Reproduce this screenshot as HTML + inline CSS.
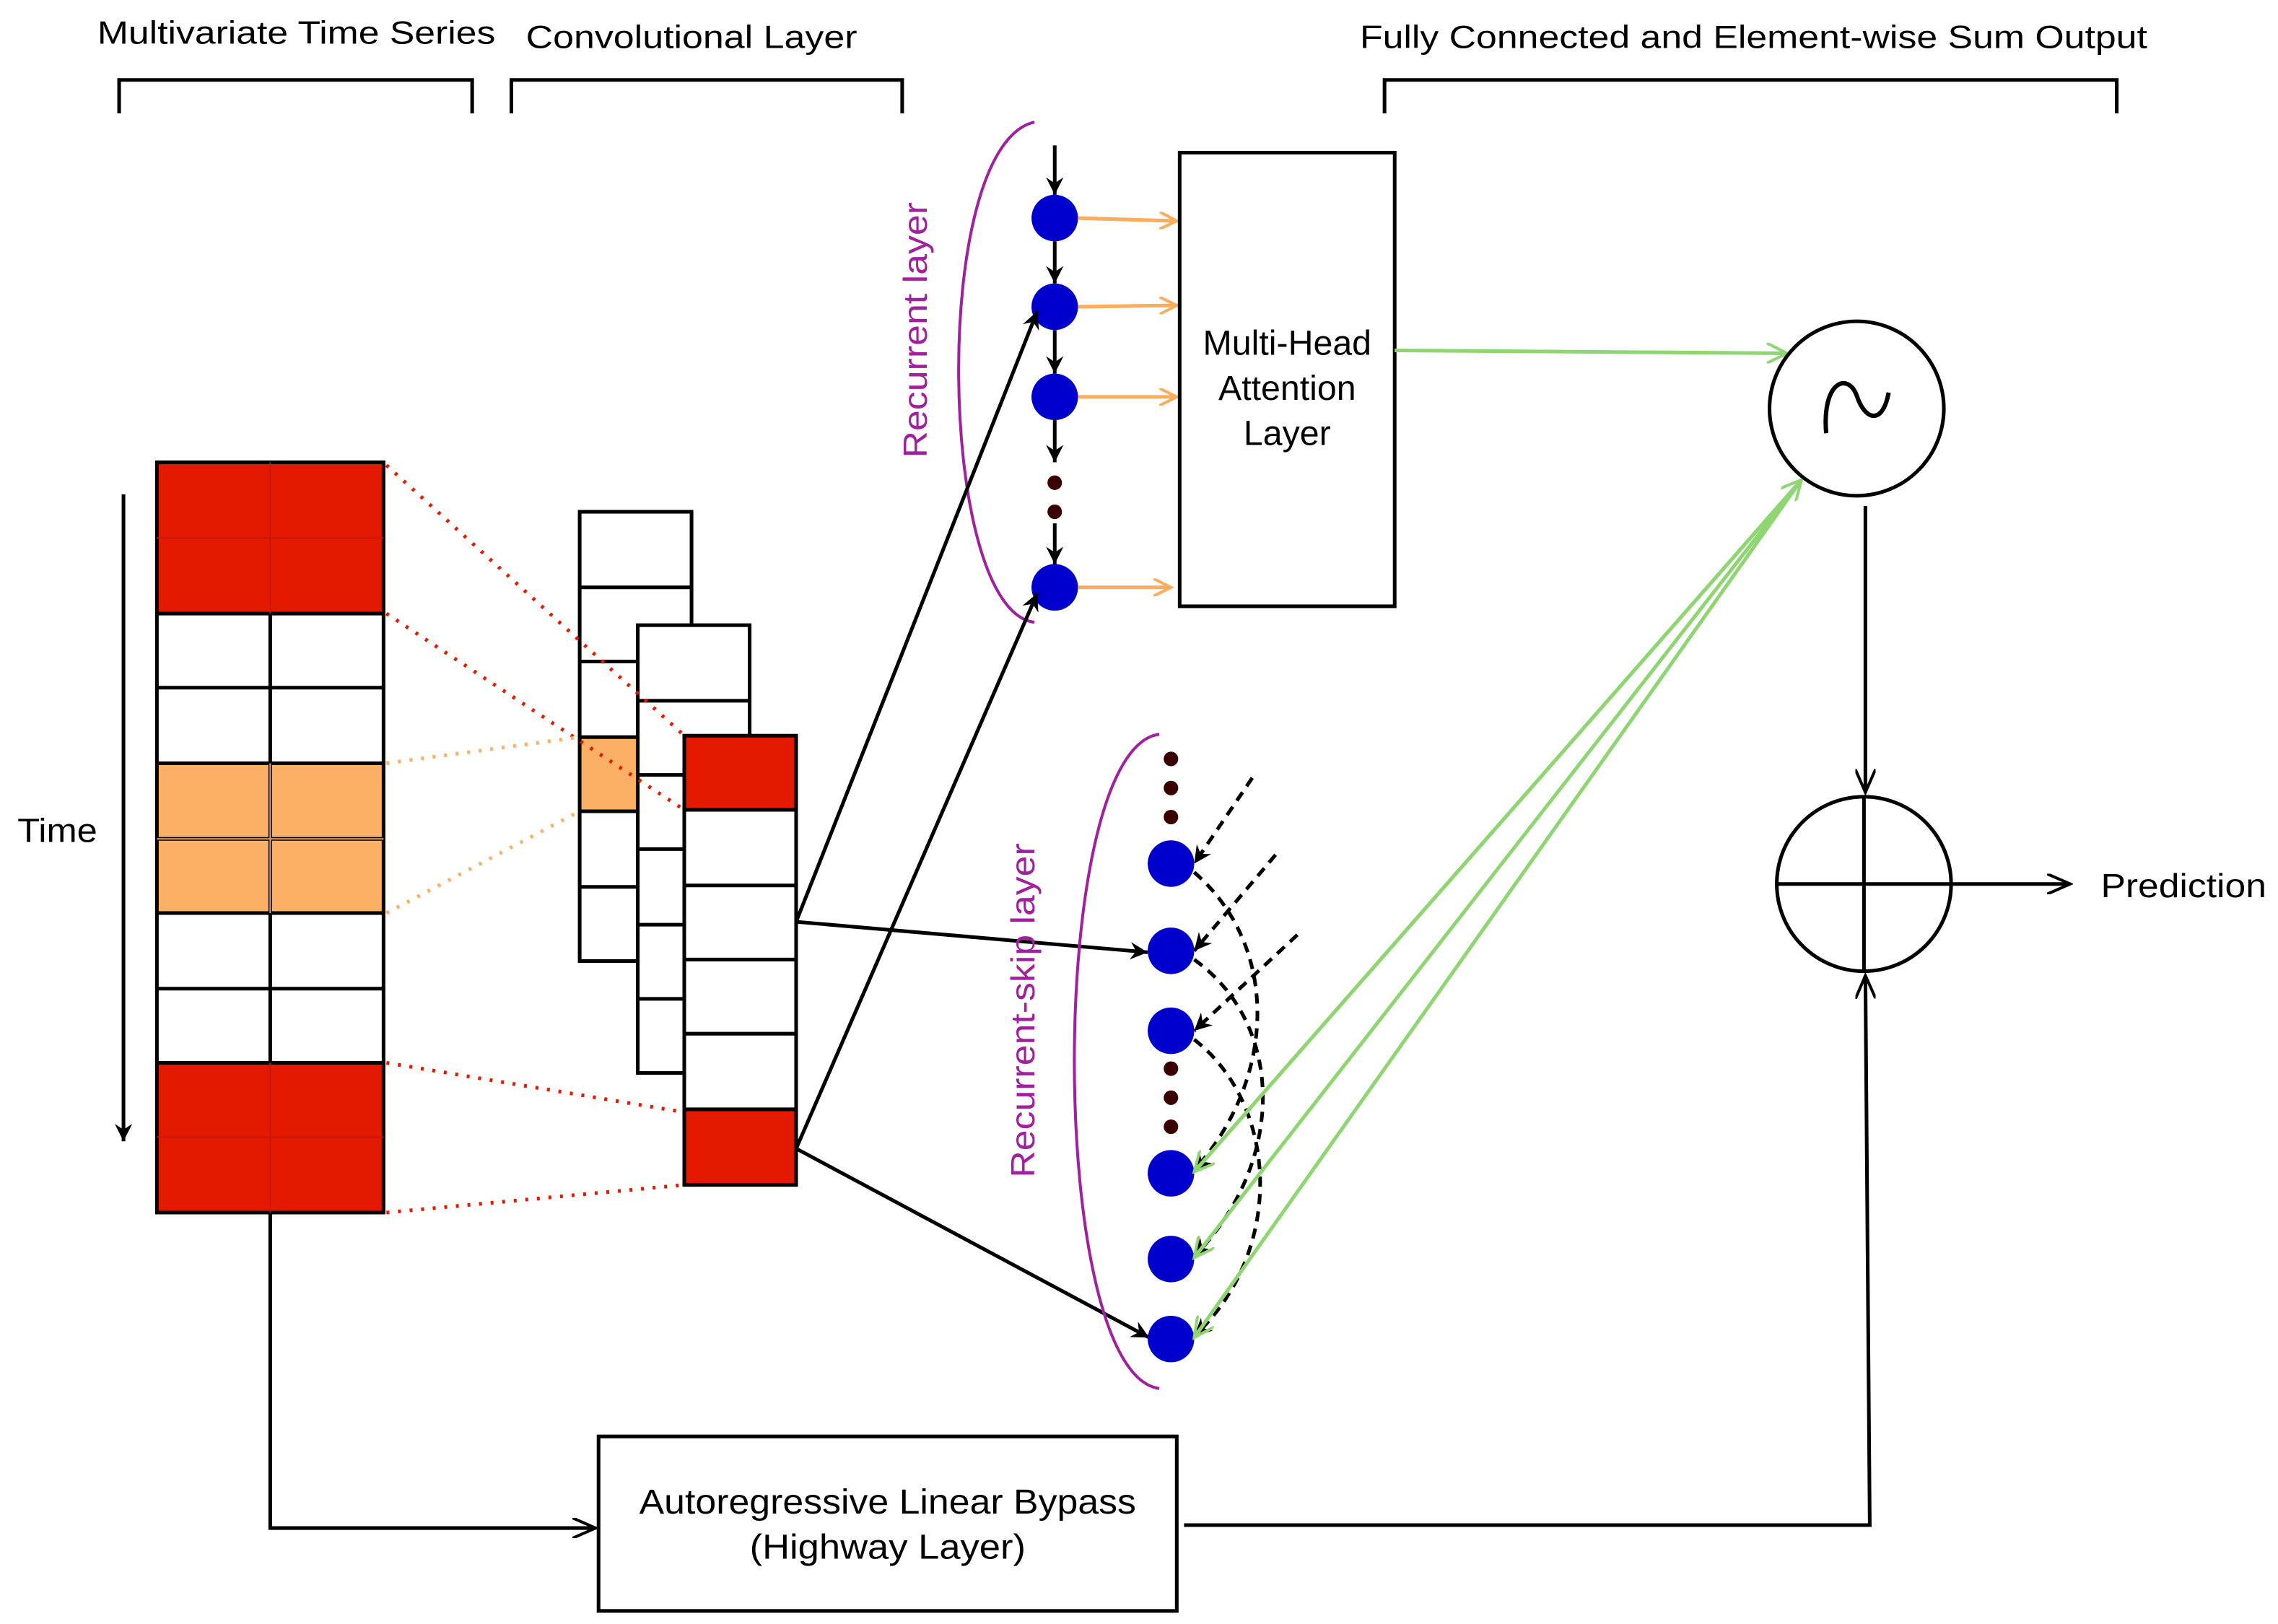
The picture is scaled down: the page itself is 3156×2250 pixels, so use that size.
<!DOCTYPE html>
<html><head><meta charset="utf-8"><style>
html,body{margin:0;padding:0;background:#fff;}
svg{display:block;}
text{font-family:"Liberation Sans",sans-serif;}
</style></head><body>
<svg width="3156" height="2250" viewBox="0 0 1568 1117" preserveAspectRatio="none" xmlns="http://www.w3.org/2000/svg">
<defs>
<marker id="ak" markerWidth="14" markerHeight="12" refX="12" refY="6" orient="auto" markerUnits="userSpaceOnUse"><path d="M0,0 L12,6 L0,12 L4,6 Z" fill="#000"/></marker>
<marker id="ao" markerWidth="14" markerHeight="12" refX="12" refY="6" orient="auto" markerUnits="userSpaceOnUse"><path d="M0,0 L12,6 L0,12" fill="none" stroke="#f9ad5e" stroke-width="2"/></marker>
<marker id="ag" markerWidth="16" markerHeight="14" refX="14" refY="7" orient="auto" markerUnits="userSpaceOnUse"><path d="M0,0 L14,7 L0,14" fill="none" stroke="#8fd672" stroke-width="2"/></marker>
<marker id="aw" markerWidth="18" markerHeight="14" refX="16" refY="7" orient="auto" markerUnits="userSpaceOnUse"><path d="M0,0 L16,7 L0,14" fill="none" stroke="#000" stroke-width="2"/></marker>
</defs>
<rect width="1568" height="1117" fill="#fff"/>
<g font-size="22" fill="#000">
<text x="67" y="30" textLength="274" lengthAdjust="spacingAndGlyphs">Multivariate Time Series</text>
<text x="362" y="33" textLength="228" lengthAdjust="spacingAndGlyphs">Convolutional Layer</text>
<text x="936" y="33" textLength="542" lengthAdjust="spacingAndGlyphs">Fully Connected and Element-wise Sum Output</text>
</g>
<g fill="none" stroke="#000" stroke-width="2.5">
<path d="M82,78 V55 H325 V78"/>
<path d="M352,78 V55 H621 V78"/>
<path d="M953,78 V55 H1457 V78"/>
</g>
<rect x="108" y="318" width="156" height="104" fill="#e31a00"/>
<rect x="108" y="731" width="156" height="103" fill="#e31a00"/>
<rect x="108" y="525" width="156" height="103" fill="#fbb066"/>
<g stroke="#000" stroke-width="2.5" fill="none">
<rect x="108" y="318" width="156" height="516"/>
<path d="M108,422H264M108,473H264M108,525H264M108,577H264M108,628H264M108,680H264M108,731H264"/>
<path d="M186,422V731"/>
</g>
<g stroke="#c7170a" stroke-width="1" fill="none"><path d="M108,370H264M108,782H264M186,318V422M186,731V834"/></g>
<g stroke="#e8a060" stroke-width="1" fill="none"><path d="M108,577H264M186,525V628"/></g>
<line x1="85" y1="340" x2="85" y2="785" stroke="#000" stroke-width="2.5" marker-end="url(#ak)"/>
<text x="12" y="579" font-size="23" textLength="55" lengthAdjust="spacingAndGlyphs">Time</text>
<!-- stack 1 -->
<rect x="399" y="352" width="77" height="309" fill="#fff"/>
<rect x="399" y="507" width="39" height="51" fill="#fbb066"/>
<g stroke="#000" stroke-width="2.5" fill="none">
<rect x="399" y="352" width="77" height="309"/>
<path d="M399,404H476M399,455H476M399,507H476M399,558H476M399,610H476"/>
</g>
<!-- stack 2 -->
<rect x="439" y="430" width="77" height="308" fill="#fff"/>
<g stroke="#000" stroke-width="2.5" fill="none">
<rect x="439" y="430" width="77" height="308"/>
<path d="M439,482H516M439,533H516M439,584H516M439,636H516M439,687H516"/>
</g>
<!-- stack 3 -->
<rect x="471" y="506" width="77" height="309" fill="#fff"/>
<rect x="471" y="506" width="77" height="51" fill="#e31a00"/>
<rect x="471" y="763" width="77" height="52" fill="#e31a00"/>
<g stroke="#000" stroke-width="2.5" fill="none">
<rect x="471" y="506" width="77" height="309"/>
<path d="M471,557H548M471,609H548M471,660H548M471,711H548M471,763H548"/>
</g>
<g stroke="#e31a00" stroke-width="2.5" stroke-dasharray="2,6" fill="none">
<path d="M266,320L471,506M266,422L471,557M266,731L471,765M266,834L471,815"/>
</g>
<g stroke="#fbb066" stroke-width="2.5" stroke-dasharray="2,6" fill="none">
<path d="M266,525L399,507M266,628L399,558"/>
</g>
<path d="M712,84 C640,100 645,420 712,428" fill="none" stroke="#a020a0" stroke-width="2"/>
<text font-size="23" fill="#a020a0" transform="translate(638,227) rotate(-90)" text-anchor="middle" textLength="176" lengthAdjust="spacingAndGlyphs">Recurrent layer</text>
<g stroke="#000" stroke-width="2.5">
<line x1="726" y1="100" x2="726" y2="134" marker-end="url(#ak)"/>
<line x1="726" y1="166" x2="726" y2="195" marker-end="url(#ak)"/>
<line x1="726" y1="227" x2="726" y2="257" marker-end="url(#ak)"/>
<line x1="726" y1="289" x2="726" y2="318" marker-end="url(#ak)"/>
<line x1="726" y1="360" x2="726" y2="388" marker-end="url(#ak)"/>
</g>
<g fill="#0000cc">
<ellipse cx="726" cy="150" rx="16" ry="16"/>
<ellipse cx="726" cy="211" rx="16" ry="16"/>
<ellipse cx="726" cy="273" rx="16" ry="16"/>
<ellipse cx="726" cy="404" rx="16" ry="16"/>
</g>
<g fill="#3a0000"><circle cx="726" cy="332" r="5"/><circle cx="726" cy="352" r="5"/></g>
<g stroke="#f9ad5e" stroke-width="2.5">
<line x1="742" y1="150" x2="810" y2="152" marker-end="url(#ao)"/>
<line x1="742" y1="211" x2="810" y2="210" marker-end="url(#ao)"/>
<line x1="742" y1="273" x2="810" y2="273" marker-end="url(#ao)"/>
<line x1="742" y1="404" x2="806" y2="404" marker-end="url(#ao)"/>
</g>
<rect x="812" y="105" width="148" height="312" fill="none" stroke="#000" stroke-width="2.5"/>
<g font-size="24" text-anchor="middle"><text x="886" y="244">Multi-Head</text><text x="886" y="275">Attention</text><text x="886" y="306">Layer</text></g>
<g stroke="#000" stroke-width="2.5" fill="none">
<line x1="548" y1="634" x2="714" y2="214" marker-end="url(#ak)"/>
<line x1="548" y1="790" x2="714" y2="408" marker-end="url(#ak)"/>
<line x1="548" y1="634" x2="790" y2="655" marker-end="url(#ak)"/>
<line x1="548" y1="790" x2="791" y2="920" marker-end="url(#ak)"/>
</g>
<path d="M798,505 C720,515 720,945 798,955" fill="none" stroke="#a020a0" stroke-width="2"/>
<text font-size="23" fill="#a020a0" transform="translate(712,695) rotate(-90)" text-anchor="middle" textLength="230" lengthAdjust="spacingAndGlyphs">Recurrent-skip layer</text>
<g fill="#3a0000"><circle cx="806" cy="522" r="5"/><circle cx="806" cy="542" r="5"/><circle cx="806" cy="562" r="5"/><circle cx="806" cy="735" r="5"/><circle cx="806" cy="755" r="5"/><circle cx="806" cy="775" r="5"/></g>
<g stroke="#000" stroke-width="2.5" fill="none" stroke-dasharray="7,5">
<path d="M862,535 L822,594" marker-end="url(#ak)"/>
<path d="M878,588 L822,654" marker-end="url(#ak)"/>
<path d="M893,643 L822,709" marker-end="url(#ak)"/>
<path d="M822,600 C880,650 880,740 822,805" marker-end="url(#ak)"/>
<path d="M822,660 C885,705 885,800 822,864" marker-end="url(#ak)"/>
<path d="M822,715 C880,760 885,860 822,919" marker-end="url(#ak)"/>
</g>
<g fill="#0000cc">
<ellipse cx="806" cy="594" rx="16" ry="16"/>
<ellipse cx="806" cy="654" rx="16" ry="16"/>
<ellipse cx="806" cy="709" rx="16" ry="16"/>
<ellipse cx="806" cy="807" rx="16" ry="16"/>
<ellipse cx="806" cy="866" rx="16" ry="16"/>
<ellipse cx="806" cy="921" rx="16" ry="16"/>
</g>
<g stroke="#8fd672" stroke-width="2.5" fill="none">
<line x1="960" y1="241" x2="1230" y2="243" marker-end="url(#ag)"/>
<line x1="1240" y1="330" x2="822" y2="806" marker-end="url(#ag)"/>
<line x1="1240" y1="330" x2="822" y2="865" marker-end="url(#ag)"/>
<line x1="1240" y1="330" x2="822" y2="920" marker-end="url(#ag)"/>
<line x1="822" y1="806" x2="1240" y2="330" marker-end="url(#ag)"/>
</g>
<circle cx="1278" cy="281" r="60" fill="none" stroke="#000" stroke-width="2.5"/>
<path d="M1257,298 C1254,262 1272,256 1278,272 C1284,290 1296,292 1300,270" fill="none" stroke="#000" stroke-width="3"/>
<circle cx="1283" cy="608" r="60" fill="none" stroke="#000" stroke-width="2.5"/>
<path d="M1223,608H1343M1283,548V668" stroke="#000" stroke-width="2.5"/>
<line x1="1284" y1="348" x2="1284" y2="545" stroke="#000" stroke-width="2.5" marker-end="url(#aw)"/>
<line x1="1343" y1="608" x2="1425" y2="608" stroke="#000" stroke-width="2.5" marker-end="url(#aw)"/>
<text x="1446" y="617" font-size="23" textLength="114" lengthAdjust="spacingAndGlyphs">Prediction</text>
<rect x="412" y="988" width="398" height="120" fill="none" stroke="#000" stroke-width="2.5"/>
<g font-size="24" text-anchor="middle"><text x="611" y="1041" textLength="342" lengthAdjust="spacingAndGlyphs">Autoregressive Linear Bypass</text><text x="611" y="1072" textLength="190" lengthAdjust="spacingAndGlyphs">(Highway Layer)</text></g>
<path d="M186,834 V1051 H410" fill="none" stroke="#000" stroke-width="2.5" marker-end="url(#aw)"/>
<path d="M815,1049 H1287 L1284,671" fill="none" stroke="#000" stroke-width="2.5" marker-end="url(#aw)"/>
</svg>
</body></html>
